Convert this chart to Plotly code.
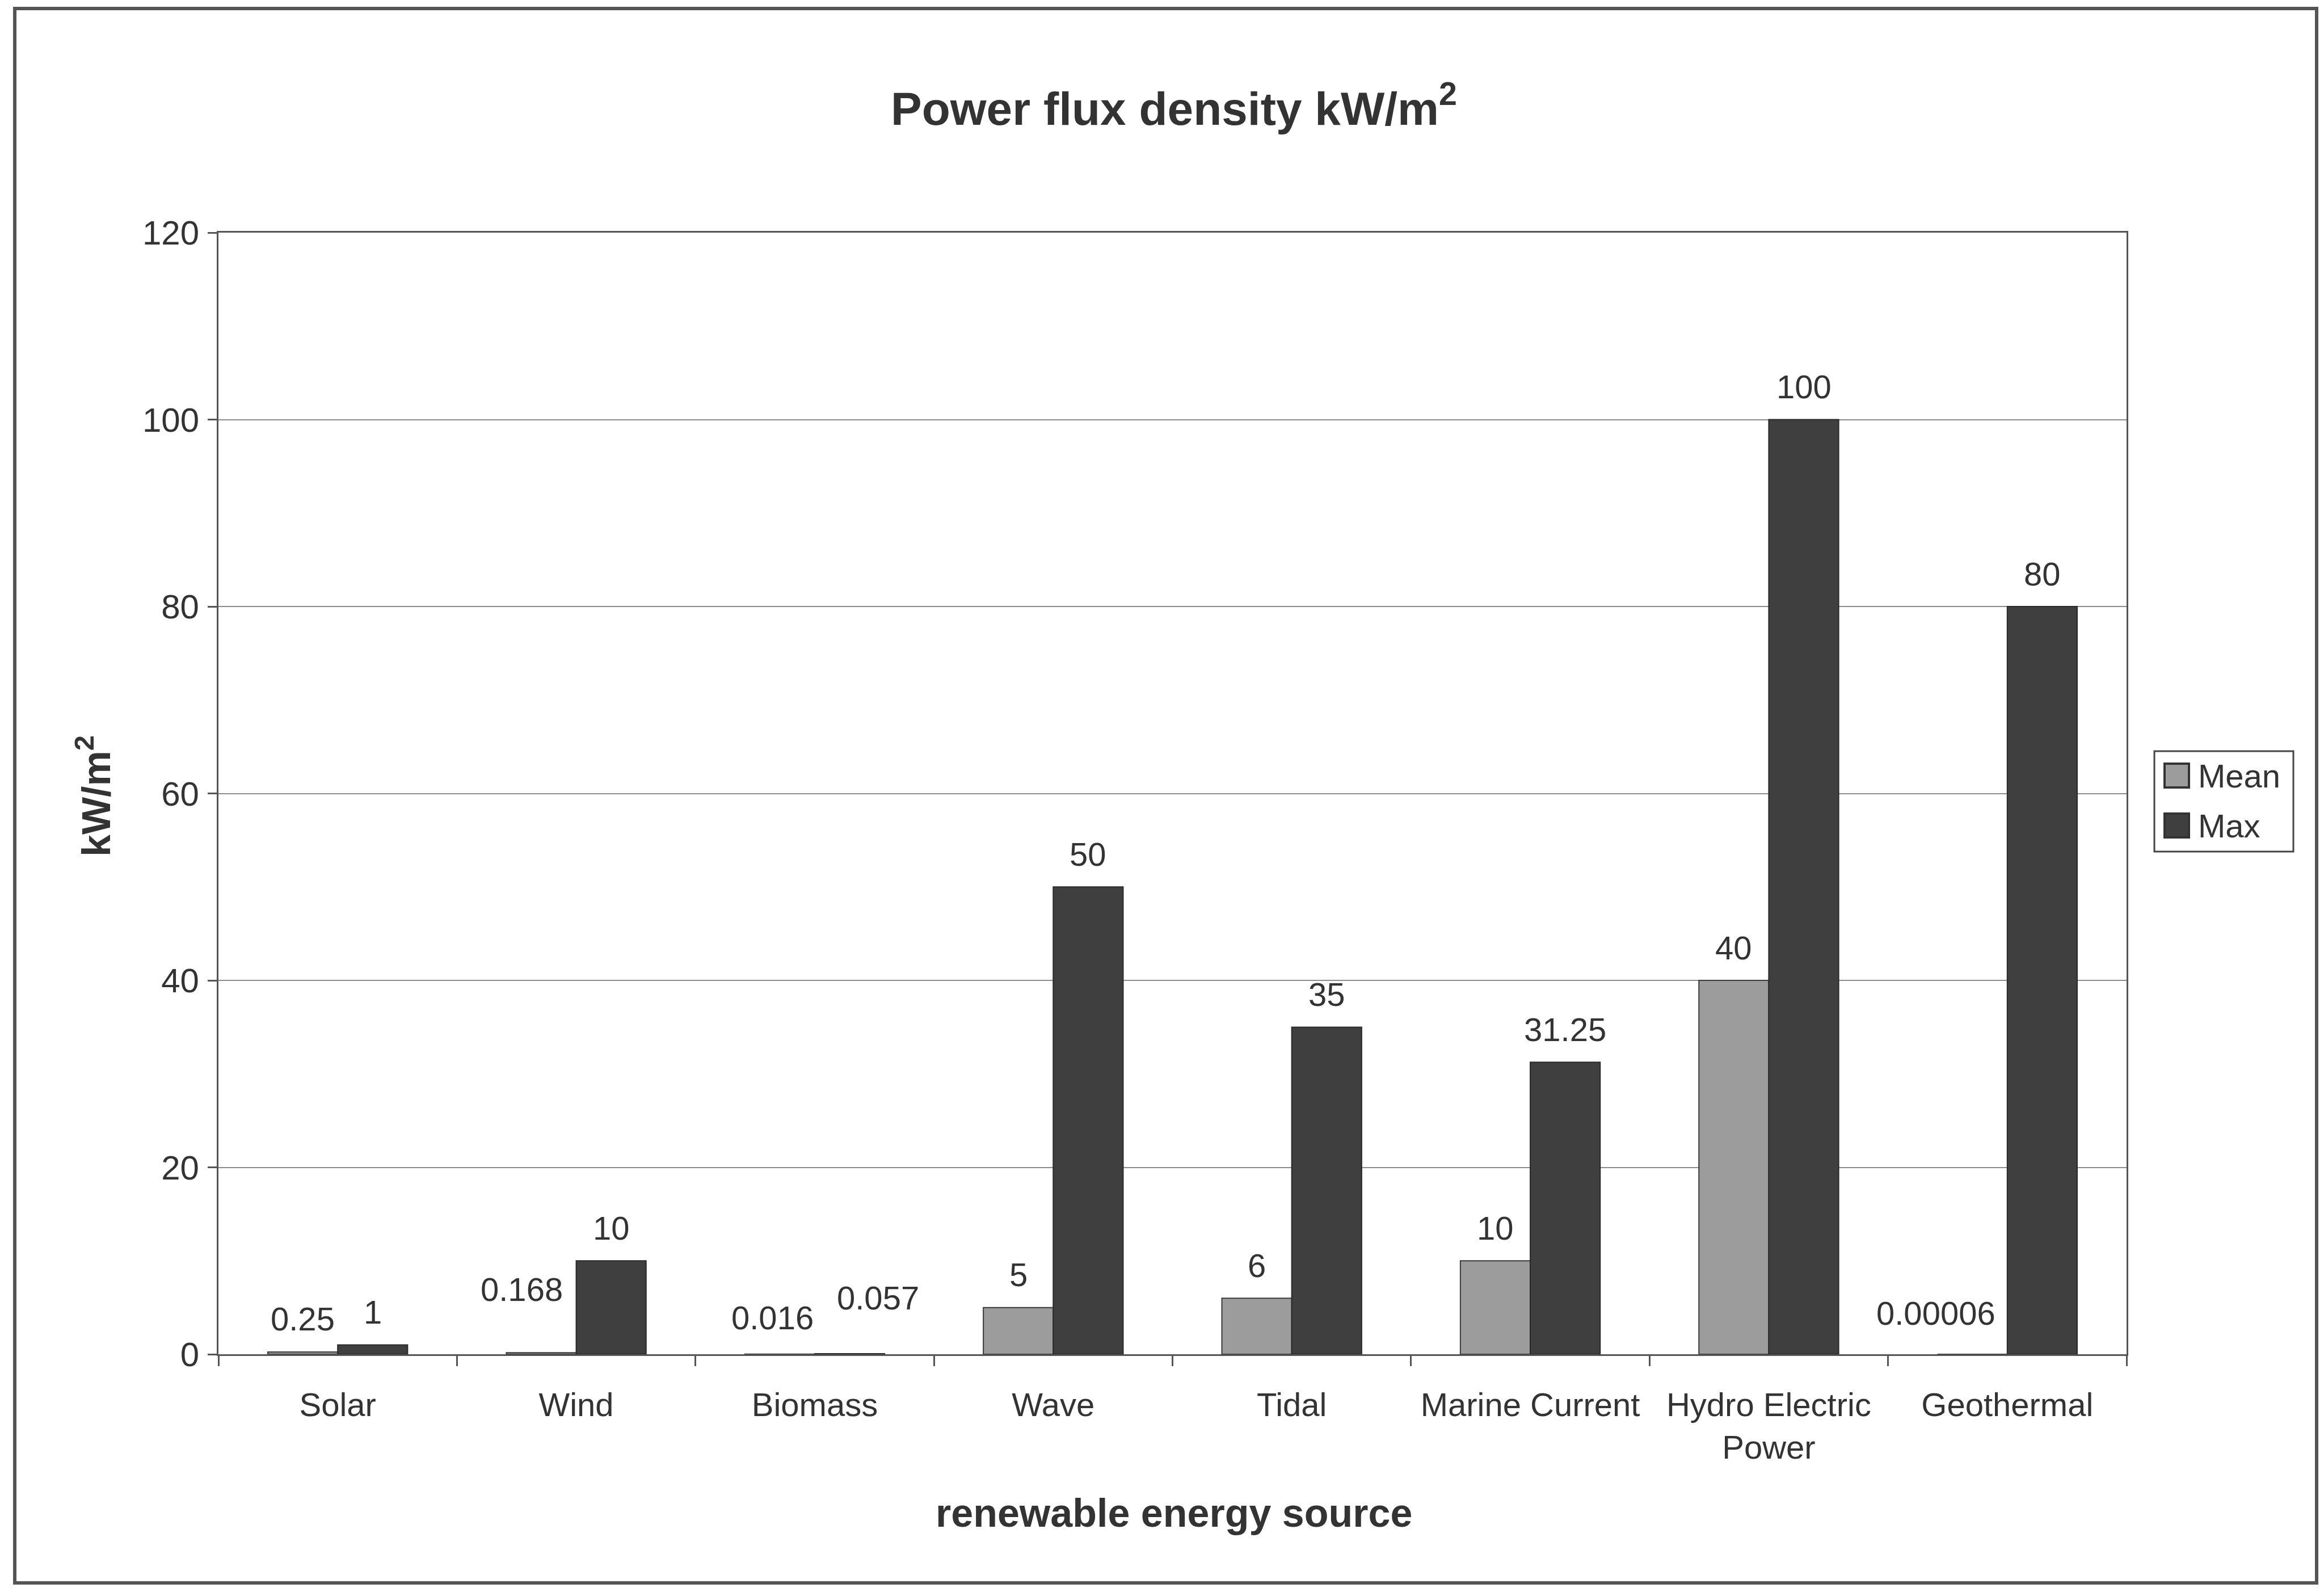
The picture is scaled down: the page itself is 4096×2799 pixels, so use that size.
import plotly.graph_objects as go

# ---- data ----
categories = ["Solar", "Wind", "Biomass", "Wave", "Tidal", "Marine Current",
              "Hydro Electric<br>Power", "Geothermal"]
mean_vals = [0.25, 0.168, 0.016, 5, 6, 10, 40, 0.00006]
max_vals = [1, 10, 0.057, 50, 35, 31.25, 100, 80]
y_ticks = [0, 20, 40, 60, 80, 100, 120]

# ---- layout geometry (pixels) ----
W, H = 4096, 2799
L, R, T, B = 385, 3748, 410, 2387
BAR_GAP = 0.414
HALF = (1 - BAR_GAP) / 4  # centre offset of each bar inside its group

FONT = "Liberation Sans, Arial, Helvetica, sans-serif"
TXT = "#333333"
AX = "#555555"
MEAN_COL = "#9c9c9c"
MAX_COL = "#3f3f3f"


def px(x):
    return (x - L) / (R - L)


def py(y):
    return (B - y) / (B - T)


def fmt(v):
    s = format(v, "f").rstrip("0").rstrip(".")
    return s


# label nudges (pixels) where labels are shifted to avoid crowding
nudge = {
    ("mean", 1): (-34, 112),
    ("mean", 2): (-13, 64),
    ("max", 2): (50, 99),
    ("mean", 7): (-64, 73),
}

fig = go.Figure()
fig.add_bar(name="Mean", x=categories, y=mean_vals,
            marker=dict(color=MEAN_COL, line=dict(color="#3a3a3a", width=2)))
fig.add_bar(name="Max", x=categories, y=max_vals,
            marker=dict(color=MAX_COL, line=dict(color="#2a2a2a", width=2)))

annotations = []
for key, vals, sign in (("mean", mean_vals, -1), ("max", max_vals, 1)):
    for i, v in enumerate(vals):
        dx, dy = nudge.get((key, i), (0, 58))
        annotations.append(dict(
            x=i + sign * HALF, y=v, xref="x", yref="y",
            text=fmt(v), showarrow=False, xanchor="center", yanchor="middle",
            xshift=dx, yshift=dy,
            font=dict(family=FONT, size=58, color=TXT)))

# axis titles
annotations.append(dict(
    x=px(2069), y=py(2667), xref="paper", yref="paper",
    text="<b>renewable energy source</b>", showarrow=False,
    xanchor="center", yanchor="middle",
    font=dict(family=FONT, size=70, color=TXT)))
annotations.append(dict(
    x=px(165), y=py(1403), xref="paper", yref="paper",
    text="<b>kW/m<sup>2</sup></b>", showarrow=False, textangle=-90,
    xanchor="center", yanchor="middle",
    font=dict(family=FONT, size=70, color=TXT)))

# legend
legend_items = [("Mean", MEAN_COL, 1367), ("Max", MAX_COL, 1455)]
shapes = [
    dict(type="rect", xref="paper", yref="paper",
         x0=px(3797), x1=px(4042), y0=py(1324), y1=py(1501),
         line=dict(color="#444444", width=3), fillcolor="white"),
    # outer chart border
    dict(type="rect", xref="paper", yref="paper",
         x0=px(26), x1=px(4083), y0=py(15), y1=py(2790),
         line=dict(color="#555555", width=6), fillcolor="rgba(0,0,0,0)",
         layer="below"),
]
for name, col, cy in legend_items:
    shapes.append(dict(type="rect", xref="paper", yref="paper",
                       x0=px(3815), x1=px(3858), y0=py(cy - 21), y1=py(cy + 21),
                       line=dict(color="#333333", width=4), fillcolor=col))
    annotations.append(dict(
        x=px(3872), y=py(cy), xref="paper", yref="paper", text=name,
        showarrow=False, xanchor="left", yanchor="middle",
        font=dict(family=FONT, size=58, color=TXT)))

fig.update_layout(
    width=W, height=H,
    margin=dict(l=L, r=W - R, t=T, b=H - B, pad=0),
    paper_bgcolor="white", plot_bgcolor="white",
    barmode="group", bargap=BAR_GAP, bargroupgap=0,
    showlegend=False,
    title=dict(text="<b>Power flux density kW/m<sup>2</sup></b>",
               x=2069 / W, y=1 - 191 / H, xref="container", yref="container",
               xanchor="center", yanchor="middle",
               font=dict(family=FONT, size=82, color=TXT)),
    font=dict(family=FONT, size=58, color=TXT),
    annotations=annotations,
    shapes=shapes,
)

fig.update_xaxes(
    type="category", tickson="boundaries", ticks="outside", ticklen=18,
    tickwidth=3, tickcolor=AX, showline=True, linecolor=AX, linewidth=3,
    mirror=True, showgrid=False, zeroline=False,
    tickfont=dict(family=FONT, size=58, color=TXT), ticklabelstandoff=36,
)
fig.update_yaxes(
    range=[0, 120], tickvals=y_ticks, ticktext=[str(t) for t in y_ticks],
    ticks="outside", ticklen=16, tickwidth=3, tickcolor=AX,
    showline=True, linecolor=AX, linewidth=3, mirror=True,
    showgrid=True, gridcolor="#8c8c8c", gridwidth=2, zeroline=False,
    tickfont=dict(family=FONT, size=60, color=TXT), ticklabelstandoff=3,
)

fig.write_html("out.html")
